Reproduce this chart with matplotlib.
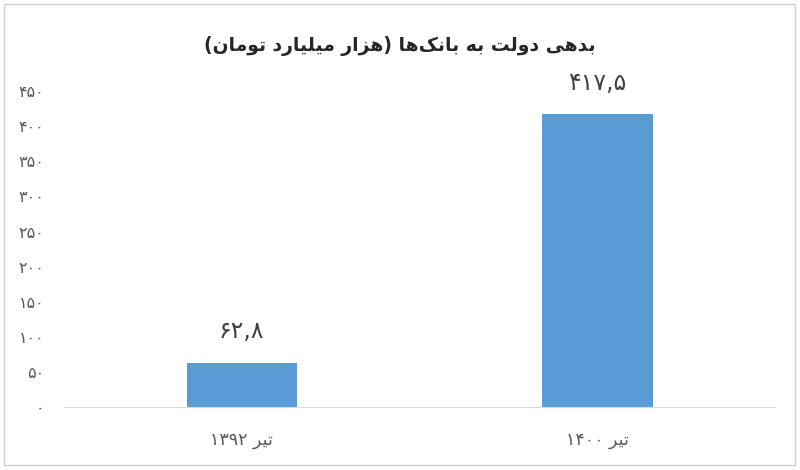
import re
import matplotlib
matplotlib.use('Agg')
import matplotlib.pyplot as plt
from matplotlib.patches import Rectangle
from matplotlib.ticker import FuncFormatter, MultipleLocator

plt.rcParams['font.family'] = ['DejaVu Sans']

title = 'بدهی دولت به بانک‌ها (هزار میلیارد تومان)'
categories = ['تیر ۱۳۹۲', 'تیر ۱۴۰۰']
values = [62.8, 417.5]

# presentation forms: isolated, final, initial, medial
DUAL = {
	'ب': (0xFE8F, 0xFE90, 0xFE91, 0xFE92),
	'ت': (0xFE95, 0xFE96, 0xFE97, 0xFE98),
	'س': (0xFEB1, 0xFEB2, 0xFEB3, 0xFEB4),
	'ل': (0xFEDD, 0xFEDE, 0xFEDF, 0xFEE0),
	'م': (0xFEE1, 0xFEE2, 0xFEE3, 0xFEE4),
	'ن': (0xFEE5, 0xFEE6, 0xFEE7, 0xFEE8),
	'ه': (0xFEE9, 0xFEEA, 0xFEEB, 0xFEEC),
	'ی': (0xFBFC, 0xFBFD, 0xFBFE, 0xFBFF),
	'ک': (0xFB8E, 0xFB8F, 0xFB90, 0xFB91),
}
RIGHT = {
	'ا': (0xFE8D, 0xFE8E),
	'د': (0xFEA9, 0xFEAA),
	'ر': (0xFEAD, 0xFEAE),
	'ز': (0xFEAF, 0xFEB0),
	'و': (0xFEED, 0xFEEE),
}
FA_DIGITS = str.maketrans('0123456789', '۰۱۲۳۴۵۶۷۸۹')


def rtl(s):
	# crude arabic shaping + visual reordering, matplotlib does neither
	shaped = []
	for i, ch in enumerate(s):
		prev = s[i - 1] if i > 0 else None
		nxt = s[i + 1] if i + 1 < len(s) else None
		join_prev = prev in DUAL
		if ch in DUAL:
			join_next = nxt in DUAL or nxt in RIGHT
			f = DUAL[ch]
			if join_prev and join_next:
				shaped.append(chr(f[3]))
			elif join_prev:
				shaped.append(chr(f[1]))
			elif join_next:
				shaped.append(chr(f[2]))
			else:
				shaped.append(chr(f[0]))
		elif ch in RIGHT:
			f = RIGHT[ch]
			shaped.append(chr(f[1] if join_prev else f[0]))
		elif ch == '\u200c':
			continue
		else:
			shaped.append(ch)
	tokens = re.findall(r'[0-9۰-۹,.]+|.', ''.join(shaped))
	swap = {'(': ')', ')': '('}
	return ''.join(swap.get(t, t) for t in reversed(tokens))


def fa_num(v):
	return f'{v:.1f}'.replace('.', ',').translate(FA_DIGITS)


fig = plt.figure(figsize=(8, 4.7), dpi=100)
ax = fig.add_axes([0.08, 0.134, 0.889, 0.672])

x = range(len(categories))
bars = ax.bar(x, values, width=0.31, color='#5b9bd5')

for xi, v in zip(x, values):
	ax.annotate(fa_num(v), (xi, v), xytext=(0, 14), textcoords='offset points',
		ha='center', va='bottom', fontsize=17, color='#404040')

ax.set_xlim(-0.5, 1.5)
ax.set_ylim(0, 450)
ax.yaxis.set_major_locator(MultipleLocator(50))
ax.yaxis.set_major_formatter(FuncFormatter(lambda v, p: str(int(v)).translate(FA_DIGITS)))
ax.set_xticks(list(x))
ax.set_xticklabels([rtl(c) for c in categories], fontsize=12.5, color='#595959')
ax.tick_params(axis='y', length=0, pad=14, labelsize=11.5, labelcolor='#595959')
ax.tick_params(axis='x', length=0, pad=17)

for side in ['top', 'right', 'left']:
	ax.spines[side].set_visible(False)
ax.spines['bottom'].set_color('#d9d9d9')

fig.text(0.5, 0.902, rtl(title), ha='center', va='center', fontsize=13.5,
	fontweight='bold', color='#262626')

fig.patches.append(Rectangle((4 / 800, 5 / 470), 791 / 800, 461 / 470,
	transform=fig.transFigure, fill=False, edgecolor='#d0d0d0', linewidth=1))

fig.savefig('out.png', dpi=100)
